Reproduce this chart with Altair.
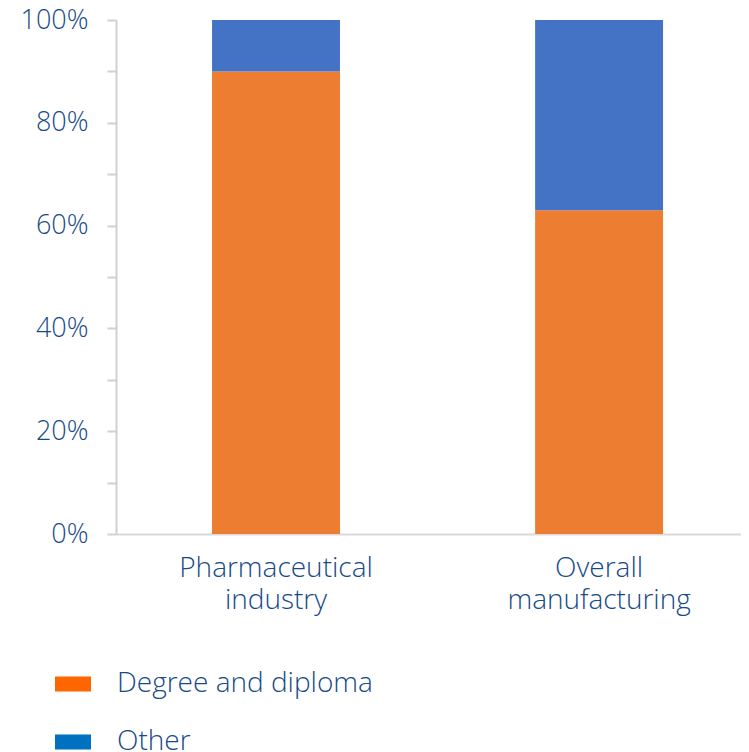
import altair as alt
import pandas as pd

categories = ["Pharmaceutical industry", "Overall manufacturing"]
series = ["Degree and diploma", "Other"]
degree_values = [0.90, 0.63]
other_values = [0.10, 0.37]
y_ticks = [0.0, 0.1, 0.2, 0.3, 0.4, 0.5, 0.6, 0.7, 0.8, 0.9, 1.0]

bar_colors = ["#ED7D31", "#4472C4"]
legend_colors = ["#FF6600", "#0070C0"]
text_color = "#174A88"
font = "Open Sans"
weight = 300

rows = []
for i, c in enumerate(categories):
    rows.append({"cat": c, "series": series[0], "value": degree_values[i], "ord": 0})
    rows.append({"cat": c, "series": series[1], "value": other_values[i], "ord": 1})
df = pd.DataFrame(rows)

x_enc = alt.X(
    "cat:N",
    sort=categories,
    scale=alt.Scale(paddingInner=0.604, paddingOuter=0.2693, align=0.552),
    axis=alt.Axis(
        title=None,
        labelAngle=0,
        labelExpr="split(datum.label, ' ')",
        labelFont=font,
        labelFontWeight=weight,
        labelFontSize=28,
        labelColor=text_color,
        labelLineHeight=32,
        labelPadding=20,
        labelLimit=500,
        ticks=False,
        tickSize=0,
        domainColor="#D9D9D9",
        domainWidth=2,
        grid=False,
    ),
)

y_enc = alt.Y(
    "value:Q",
    stack="zero",
    scale=alt.Scale(domain=[0, 1], nice=False),
    axis=alt.Axis(
        title=None,
        values=y_ticks,
        labelExpr="round(datum.value*10) % 2 == 0 ? format(datum.value, '.0%') : ''",
        labelFont=font,
        labelFontWeight=weight,
        labelFontSize=27,
        labelColor=text_color,
        labelPadding=19,
        labelLimit=500,
        tickSize=9,
        tickColor="#D0D0D0",
        tickWidth=2,
        domainColor="#D0D0D0",
        domainWidth=2,
        grid=False,
    ),
)

bars = alt.Chart(df).mark_bar().encode(
    x=x_enc,
    y=y_enc,
    color=alt.Color(
        "series:N",
        scale=alt.Scale(domain=series, range=bar_colors),
        legend=None,
    ),
    order=alt.Order("ord:Q"),
)

legend_layer = alt.Chart(df).transform_calculate(zero="0").mark_bar(
    strokeWidth=0
).encode(
    x=alt.X("cat:N", sort=categories),
    y=alt.Y("zero:Q", stack=None),
    fill=alt.Fill(
        "series:N",
        scale=alt.Scale(domain=series, range=legend_colors),
        legend=alt.Legend(
            title=None,
            orient="none",
            legendX=-61,
            legendY=646,
            direction="vertical",
            padding=0,
            symbolType="M-1,-0.42H1V0.42H-1Z",
            symbolSize=1296,
            symbolStrokeWidth=0,
            labelFont=font,
            labelFontWeight=weight,
            labelFontSize=28,
            labelColor=text_color,
            labelOffset=26,
            labelLimit=500,
            rowPadding=26,
        ),
    ),
)

chart = alt.layer(bars, legend_layer).resolve_scale(
    color="independent"
).properties(
    width=625,
    height=514,
    autosize=alt.AutoSizeParams(type="none"),
    padding={"left": 108, "top": 12, "right": 0, "bottom": 218},
).configure_view(stroke=None)

chart.save("out.html", embed_options={"renderer": "svg", "actions": False})
